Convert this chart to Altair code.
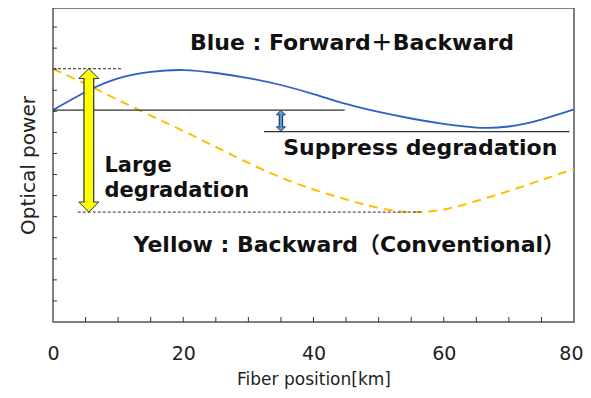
import altair as alt
import pandas as pd

# ---- data ----
km = [0, 5, 10, 15, 20, 25, 30, 35, 40, 45, 50, 55, 60, 65, 70, 75, 80]
blue = [10.06, 10.92, 11.56, 11.87, 11.96, 11.82, 11.58, 11.25, 10.82, 10.35,
        9.97, 9.66, 9.40, 9.23, 9.28, 9.61, 10.09]
yellow = [12.01, 11.30, 10.54, 9.80, 9.07, 8.31, 7.55, 6.86, 6.29, 5.82,
          5.41, 5.22, 5.34, 5.74, 6.22, 6.74, 7.26]
x_labels = [0, 20, 40, 60, 80]
x_minor = [5, 10, 15, 20, 25, 30, 35, 40, 45, 50, 55, 60, 65, 70, 75]
y_minor = [1, 2, 3, 4, 5, 6, 7, 8, 9, 10, 11, 12, 13, 14]
Y_TOP = 14.905

# reference levels
blue_start, blue_min = 10.06, 9.04
yel_start, yel_min = 12.03, 5.22
solid_levels = [(blue_start, 0, 44.8), (blue_min, 32.4, 79.3)]
dashed_levels = [(yel_start, 0, 10.7), (yel_min, 3.8, 56.8)]
big_arrow_x, small_arrow_x = 5.5, 35.0

texts_center = [("Blue : Forward＋Backward", 45.9, 13.24),
                ("Suppress degradation", 56.4, 8.26),
                ("Yellow : Backward（Conventional）", 45.5, 3.65)]
texts_left = [("Large", 7.9, 7.40), ("degradation", 7.9, 6.22)]

FONT = "DejaVu Sans, Noto Sans CJK JP"
PX_PER_Y = 314 / Y_TOP

xs = alt.Scale(domain=[0, 80], nice=False, zero=False)
ys = alt.Scale(domain=[0, Y_TOP], nice=False, zero=False)
xaxis = alt.Axis(values=x_labels, title="Fiber position[km]", ticks=False, domain=False,
                 grid=False, labelFontSize=19, labelFont=FONT, labelColor="#222",
                 labelPadding=22, labelFlush=False,
                 labelAlign={"expr": "datum.value == 80 ? 'right' : 'center'"},
                 labelOffset={"expr": "datum.value == 80 ? 9 : 0"},
                 titleFontSize=17, titleFont=FONT,
                 titleFontWeight="normal", titleColor="#222", titlePadding=8)
yaxis = alt.Axis(labels=False, ticks=False, domain=False, grid=False, title="Optical power",
                 titleFontSize=20, titleFont=FONT, titleFontWeight="normal",
                 titleColor="#222", titlePadding=15)


def X(f):
    return alt.X(f, type="quantitative", scale=xs, axis=xaxis)


def Y(f):
    return alt.Y(f, type="quantitative", scale=ys, axis=yaxis)


curves = pd.DataFrame({"x": km * 2, "y": blue + yellow,
                       "s": ["blue"] * len(km) + ["yellow"] * len(km)})

yel_line = alt.Chart(curves[curves.s == "yellow"]).mark_line(
    color="#FFC000", strokeWidth=2, strokeDash=[9, 6], interpolate="natural"
).encode(x=X("x"), y=Y("y"))
blue_line = alt.Chart(curves[curves.s == "blue"]).mark_line(
    color="#2E5FC5", strokeWidth=1.8, interpolate="natural"
).encode(x=X("x"), y=Y("y"))

solid_df = pd.DataFrame([{"y": l, "x": a, "x2": b} for l, a, b in solid_levels])
dash_df = pd.DataFrame([{"y": l, "x": a, "x2": b} for l, a, b in dashed_levels])
solid = alt.Chart(solid_df).mark_rule(color="#333", strokeWidth=1.2).encode(
    x=X("x"), x2="x2:Q", y=Y("y"))
dashed = alt.Chart(dash_df).mark_rule(color="#555", strokeWidth=1.2, strokeDash=[3, 2]).encode(
    x=X("x"), x2="x2:Q", y=Y("y"))

# inward ticks
xt = pd.DataFrame({"x": x_minor, "y": 0.0, "y2": 5 / PX_PER_Y})
yt = pd.DataFrame({"y": y_minor, "x": 0.0, "x2": 0.6})
xticks = alt.Chart(xt).mark_rule(color="#333", strokeWidth=1).encode(x=X("x"), y=Y("y"), y2="y2:Q")
yticks = alt.Chart(yt).mark_rule(color="#333", strokeWidth=1).encode(y=Y("y"), x=X("x"), x2="x2:Q")

UP = "M0,-0.5L1,0.5L-1,0.5Z"
DOWN = "M0,0.5L1,-0.5L-1,-0.5Z"


def arrow(xpos, lo, hi, head_px, head_size, outer_w, inner_w, fill, edge):
    h = head_px / PX_PER_Y
    shaft = pd.DataFrame({"x": [xpos], "y": [lo + h], "y2": [hi - h]})
    inner = pd.DataFrame({"x": [xpos], "y": [lo + h * 0.8], "y2": [hi - h * 0.8]})
    heads = pd.DataFrame({"x": [xpos, xpos], "y": [hi - h / 2, lo + h / 2], "d": ["up", "down"]})
    o = alt.Chart(shaft).mark_rule(color=edge, strokeWidth=outer_w, strokeCap="butt").encode(
        x=X("x"), y=Y("y"), y2="y2:Q")
    hu = alt.Chart(heads[heads.d == "up"]).mark_point(
        shape=UP, size=head_size, filled=True, fill=fill, stroke=edge, strokeWidth=1, opacity=1
    ).encode(x=X("x"), y=Y("y"))
    hd = alt.Chart(heads[heads.d == "down"]).mark_point(
        shape=DOWN, size=head_size, filled=True, fill=fill, stroke=edge, strokeWidth=1, opacity=1
    ).encode(x=X("x"), y=Y("y"))
    i = alt.Chart(inner).mark_rule(color=fill, strokeWidth=inner_w, strokeCap="butt").encode(
        x=X("x"), y=Y("y"), y2="y2:Q")
    return [o, hu, hd, i]


big = arrow(big_arrow_x, yel_min, yel_start, 10, 400, 11, 8.5, "#FFFF00", "#333")
small = arrow(small_arrow_x, blue_min, blue_start, 5, 81, 4.5, 2.2, "#5B9BD5", "#1F3864")

tc = pd.DataFrame([{"t": t, "x": x, "y": y} for t, x, y in texts_center])
tl = pd.DataFrame([{"t": t, "x": x, "y": y} for t, x, y in texts_left])
txt_c = alt.Chart(tc).mark_text(font=FONT, fontSize=22, fontWeight="bold", color="#111",
                                 align="center", baseline="middle").encode(
    x=X("x"), y=Y("y"), text="t:N")
txt_l = alt.Chart(tl).mark_text(font=FONT, fontSize=21, fontWeight="bold", color="#111",
                                 align="left", baseline="middle").encode(
    x=X("x"), y=Y("y"), text="t:N")

chart = alt.layer(
    yel_line, blue_line, solid, dashed, xticks, yticks, *big, *small, txt_c, txt_l
).properties(
    width=521, height=314,
    autosize=alt.AutoSizeParams(type="none"),
    padding={"left": 45, "top": 0, "right": 9, "bottom": 68},
    background="white",
).configure_view(stroke="#555", strokeWidth=1.5)

chart.save("out.html", embed_options={"renderer": "svg", "actions": False})
